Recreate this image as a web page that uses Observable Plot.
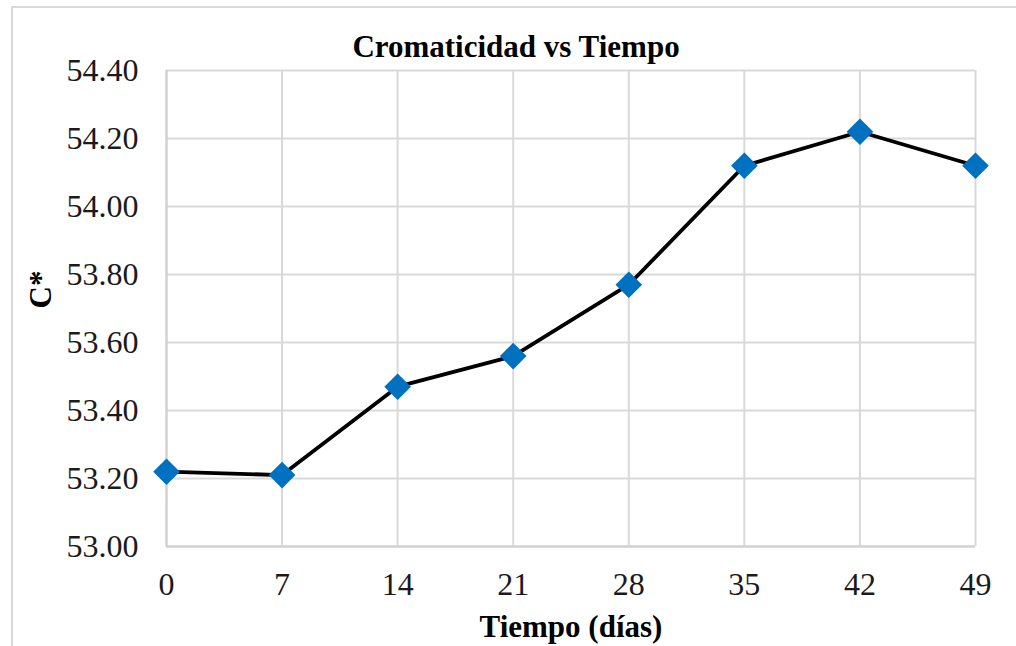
<!DOCTYPE html>
<html>
<head>
<meta charset="utf-8">
<script src="https://cdn.jsdelivr.net/npm/d3@7"></script>
<script src="https://cdn.jsdelivr.net/npm/@observablehq/plot@0.6"></script>
<style>
  html, body { margin: 0; padding: 0; background: #fff; overflow: hidden; }
  #wrap { position: relative; width: 1016px; height: 646px; overflow: hidden; }
  #border { position: absolute; left: 11px; top: 6px; width: 1100px; height: 700px;
            border-left: 2px solid #d9d9d9; border-top: 2px solid #d9d9d9; }
  #chart { position: absolute; left: 0; top: 0; }
</style>
</head>
<body>
<div id="wrap"><div id="border"></div><div id="chart"></div></div>
<script>
// Chromaticity (C*) measured over storage time
const dias = [0, 7, 14, 21, 28, 35, 42, 49];
const croma = [53.22, 53.21, 53.47, 53.56, 53.77, 54.12, 54.22, 54.12];
const yTicks = [53.0, 53.2, 53.4, 53.6, 53.8, 54.0, 54.2, 54.4];

const titulo = "Cromaticidad vs Tiempo";
const etiquetaX = "Tiempo (días)";
const etiquetaY = "C*";

const datos = dias.map((d, i) => ({ dia: d, c: croma[i] }));
const fmtY = d => d.toFixed(2);
const grid = { stroke: "#d9d9d9", strokeOpacity: 1, strokeWidth: 2 };
const bold = { text: d => d, lineAnchor: "middle", fontWeight: "bold", fontSize: 31, fill: "#000" };

const chart = Plot.plot({
  width: 1016,
  height: 646,
  marginLeft: 166,
  marginRight: 41,
  marginTop: 70,
  marginBottom: 100,
  style: { fontFamily: "'Liberation Serif', serif", fontSize: "32px", color: "#1a1a1a", background: "transparent" },
  x: { domain: [0, 49] },
  y: { domain: [53, 54.4] },
  marks: [
    Plot.gridX(dias, grid),
    Plot.gridY(yTicks, grid),
    Plot.ruleX([0], { stroke: "#cfcfcf", strokeWidth: 2 }),
    Plot.ruleY([53], { stroke: "#cfcfcf", strokeWidth: 2 }),
    Plot.axisX(dias, { tickSize: 0, tickPadding: 26, label: null, tickFormat: d => String(d) }),
    Plot.axisY(yTicks, { tickSize: 0, tickPadding: 28, label: null, tickFormat: fmtY }),
    Plot.line(datos, { x: "dia", y: "c", stroke: "#000", strokeWidth: 3.8 }),
    Plot.dot(datos, { x: "dia", y: "c", symbol: "diamond2", r: 12, fill: "#0070c0", stroke: "none" }),
    Plot.text([titulo], { ...bold, frameAnchor: "top", dx: -55, dy: -23 }),
    Plot.text([etiquetaX], { ...bold, frameAnchor: "bottom", dy: 81 }),
    Plot.text([etiquetaY], { ...bold, frameAnchor: "left", dx: -125, rotate: -90 })
  ]
});
document.getElementById("chart").appendChild(chart);
</script>
</body>
</html>
